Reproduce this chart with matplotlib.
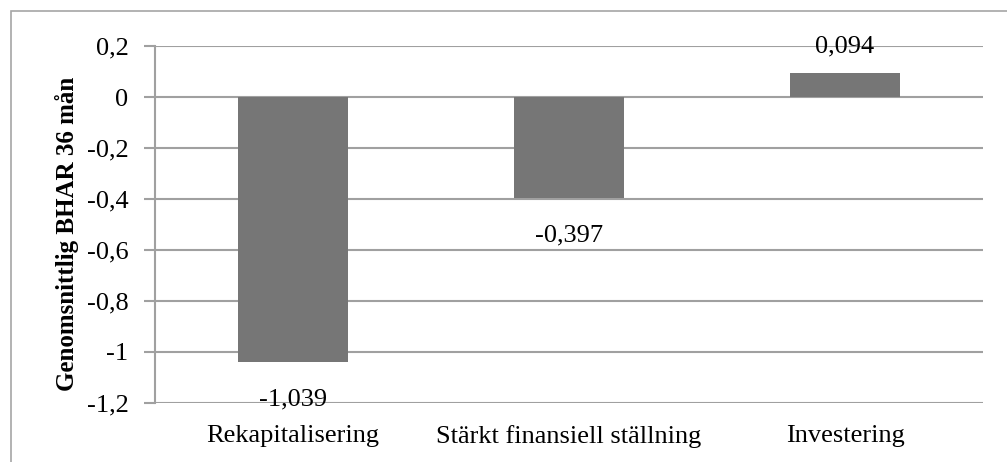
import matplotlib
matplotlib.use("Agg")
import matplotlib.pyplot as plt
from matplotlib.patches import Rectangle

categories = ["Rekapitalisering", "Stärkt finansiell ställning", "Investering"]
values = [-1.039, -0.397, 0.094]
value_labels = ["-1,039", "-0,397", "0,094"]
y_ticks = [0.2, 0, -0.2, -0.4, -0.6, -0.8, -1, -1.2]
y_tick_labels = ["0,2", "0", "-0,2", "-0,4", "-0,6", "-0,8", "-1", "-1,2"]
y_title = "Genomsnittlig BHAR 36 mån"

plt.rcParams["font.family"] = ["Liberation Serif", "DejaVu Serif"]

W, H = 1007, 462
FS = 19
fig = plt.figure(figsize=(W / 100, H / 100), dpi=100)
fig.patch.set_facecolor("white")

# outer chart frame
fig.patches.append(Rectangle((11 / W, -0.1), 1.2, 1 - 11 / H + 0.1,
                             transform=fig.transFigure, fill=False,
                             edgecolor="#a6a6a6", linewidth=1.2))

left, right, top, bottom = 155, 983, 46, 403
ax = fig.add_axes([left / W, 1 - bottom / H, (right - left) / W, (bottom - top) / H])

grid_c = "#a0a0a0"
x = list(range(len(categories)))
ax.bar(x, values, width=0.4, color="#767676", zorder=3)
ax.set_xlim(-0.5, len(categories) - 0.5)
ax.set_ylim(-1.2, 0.2)

for yv in y_ticks:
    ax.axhline(yv, color=grid_c, linewidth=1.5, zorder=1)

for sp in ["top", "right", "bottom"]:
    ax.spines[sp].set_visible(False)
ax.spines["left"].set_color(grid_c)
ax.spines["left"].set_linewidth(1.5)

ax.set_yticks(y_ticks)
ax.set_yticklabels(y_tick_labels, fontsize=FS)
ax.tick_params(axis="y", length=8, width=1.5, color=grid_c, pad=11)
ax.set_xticks(x)
ax.set_xticklabels(categories, fontsize=FS)
ax.tick_params(axis="x", length=0, pad=16)

for xi, v, lab in zip(x, values, value_labels):
    if v < 0:
        ax.annotate(lab, (xi, v), xytext=(0, -31), textcoords="offset points",
                    ha="center", va="baseline", fontsize=FS, zorder=4)
    else:
        ax.annotate(lab, (xi, v), xytext=(0, 14.5), textcoords="offset points",
                    ha="center", va="baseline", fontsize=FS, zorder=4)

fig.text(67 / W, 1 - 234 / H, y_title, rotation=90, ha="center", va="center",
         fontsize=18, fontweight="bold")

fig.savefig("out.png", dpi=100)
